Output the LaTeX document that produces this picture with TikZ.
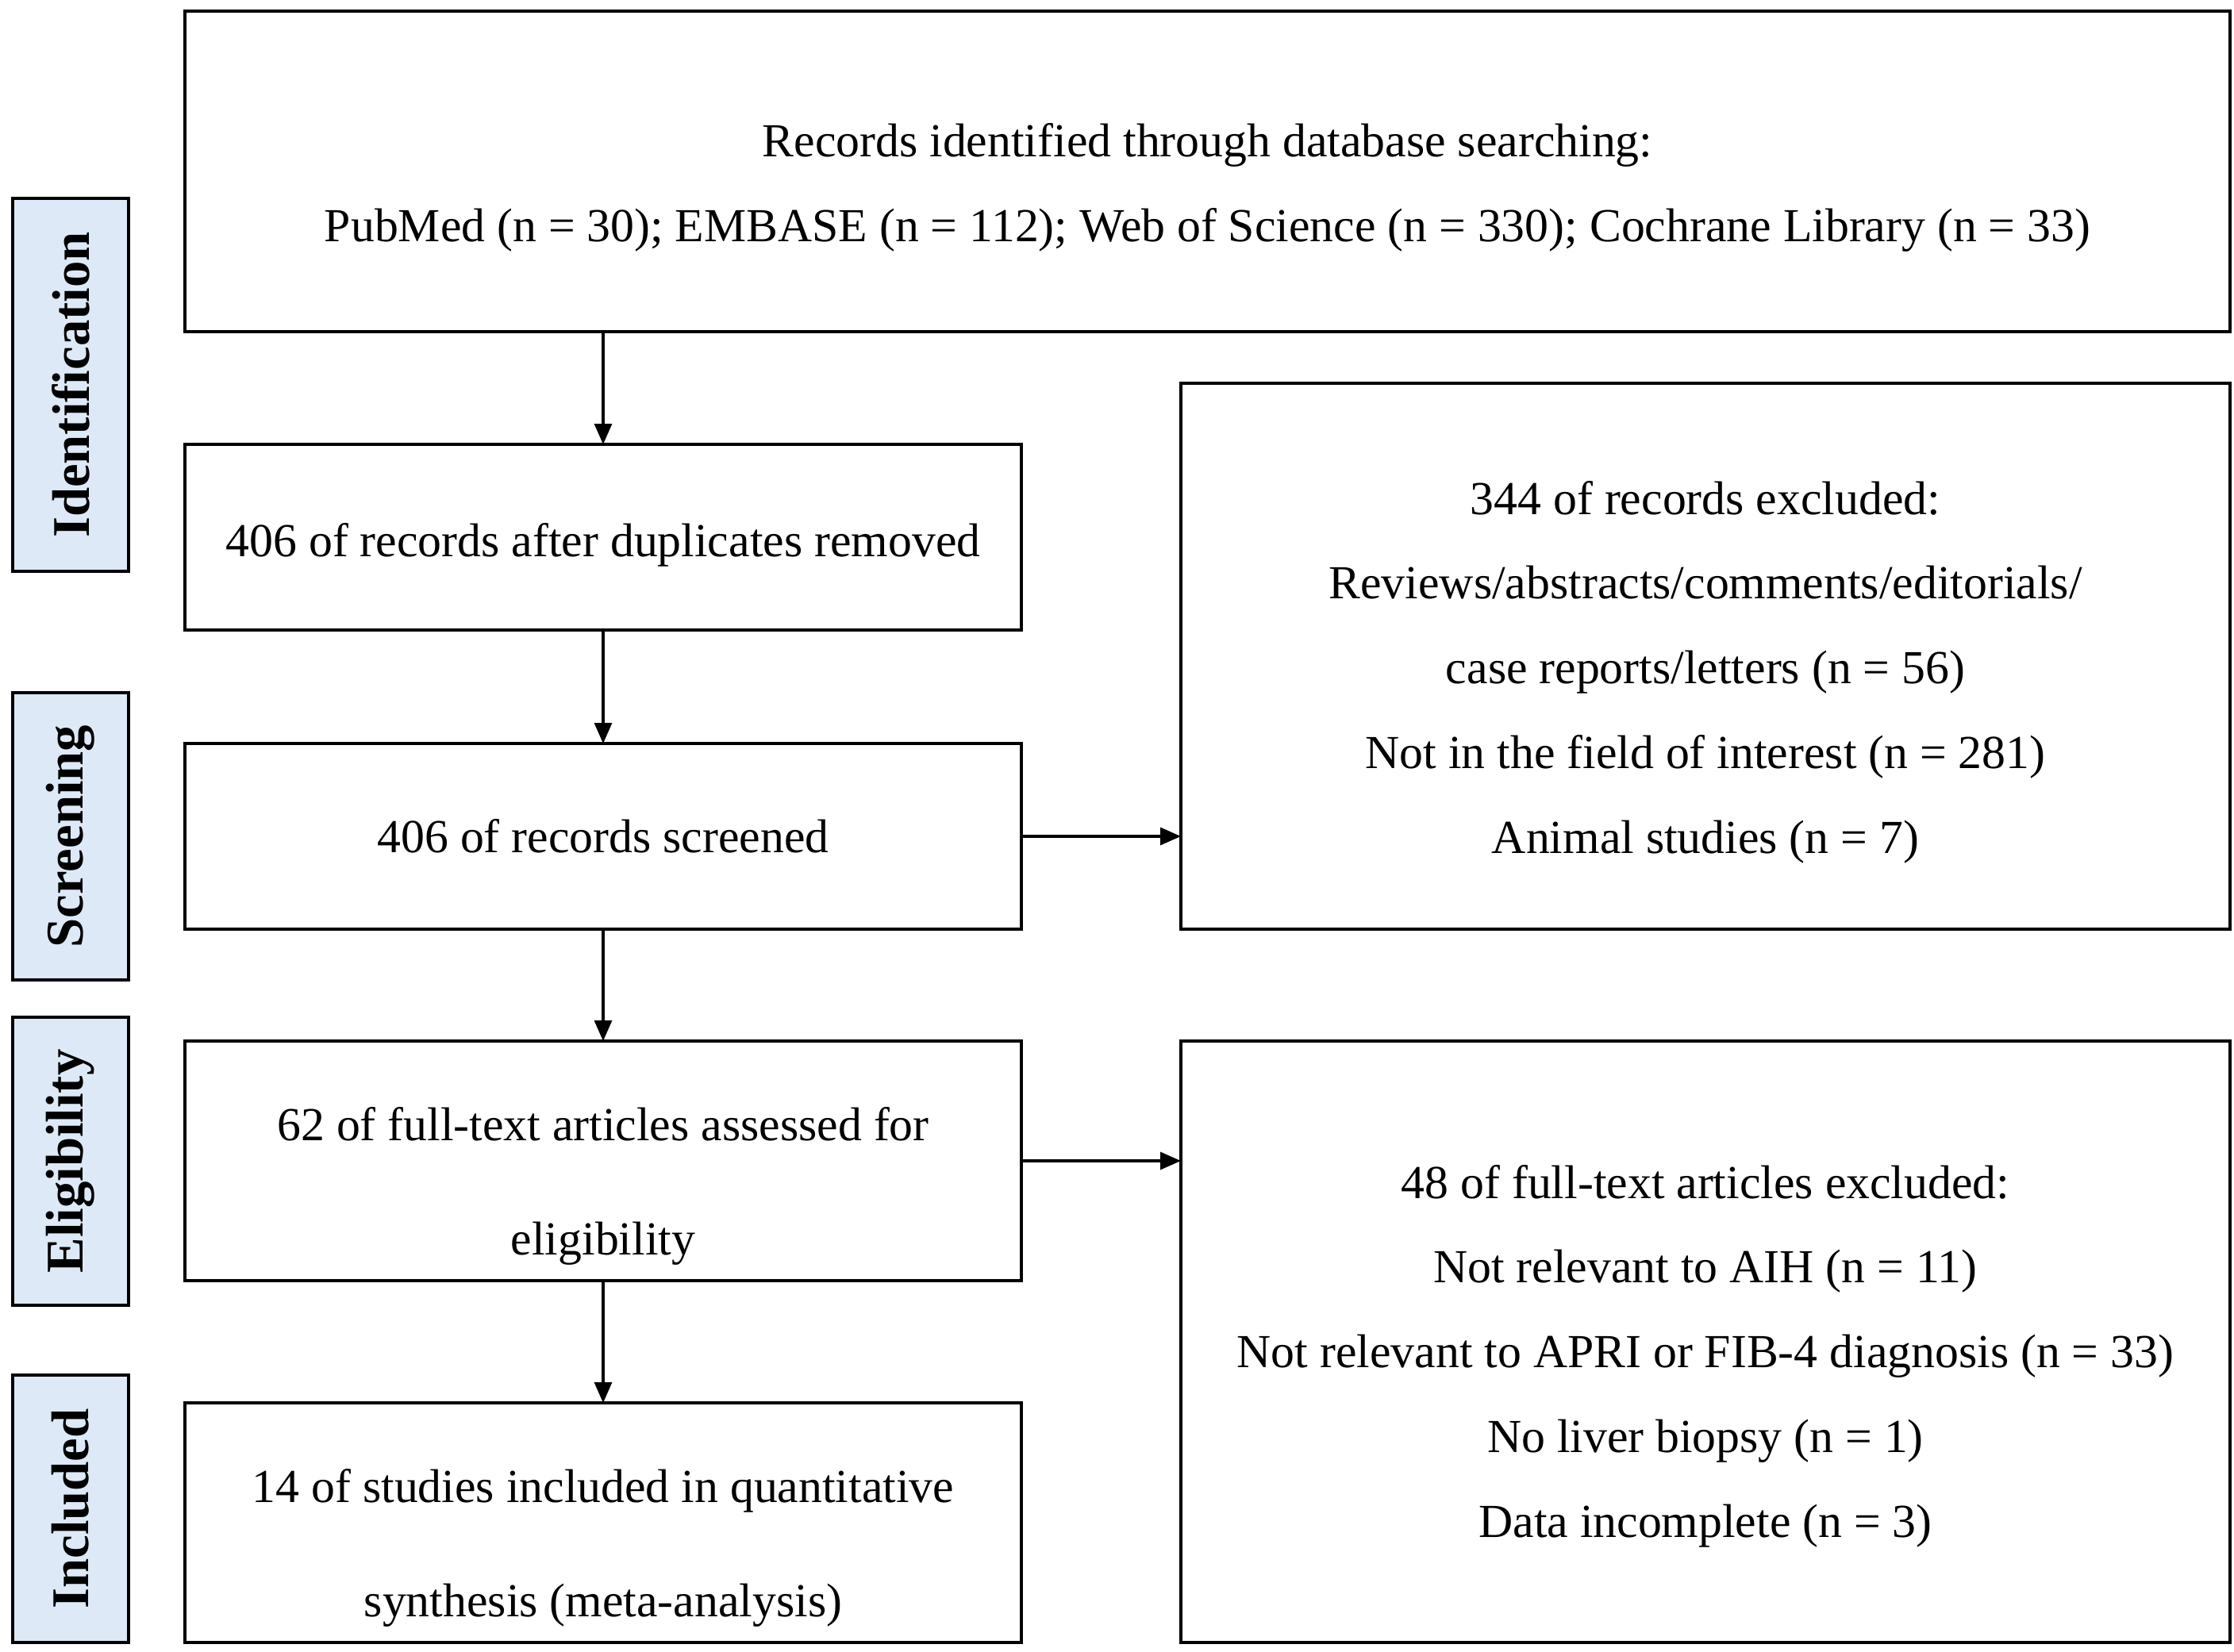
\documentclass[tikz,border=0pt]{standalone}
\usepackage{fontspec}
\setmainfont{Liberation Serif}
\usetikzlibrary{arrows.meta,positioning}
\definecolor{stageblue}{RGB}{221,233,246}

\begin{document}
\begin{tikzpicture}[node distance=1.4cm, >={Triangle[length=0.26cm,width=0.22cm]}, line width=0.9pt]
	  \tikzstyle{every node}=[font=\fontsize{17}{30.4}\selectfont, outer sep=0pt]
	  \tikzstyle{box}=[rectangle, draw=black, line width=1.2pt, inner sep=0pt, minimum width=10.54cm]
	  \tikzstyle{txt}=[align=center, inner sep=0pt]
	  \tikzstyle{stage}=[rectangle, draw=black, line width=1.2pt, fill=stageblue, rotate=90, inner sep=0pt,
	    minimum height=1.46cm, font=\fontsize{19}{22}\selectfont\bfseries]

	  \useasboundingbox (0,0) rectangle (28.15,-20.81);

	  % main column
	  \node[box] (top) [minimum width=25.77cm, minimum height=4.04cm] at (15.215,-2.16) {};
	  \node[box] (dup) [minimum height=2.34cm, below right=1.42cm and 0cm of top.south west] {};
	  \node[box] (scr) [minimum height=2.34cm, below=1.43cm of dup] {};
	  \node[box] (elig) [minimum height=3.02cm, below=1.41cm of scr] {};
	  \node[box] (incl) [minimum height=3.02cm, below=1.54cm of elig] {};

	  % exclusion boxes
	  \node[box] (ex1) [minimum width=13.22cm, minimum height=6.88cm, above right=0cm and 2.01cm of scr.south east] {};
	  \node[box] (ex2) [minimum width=13.22cm, minimum height=7.58cm, below right=0cm and 2.01cm of elig.north east] {};

	  \node[txt] (top-t) at ([yshift=-0.2cm]top.center)
	    {Records identified through database searching:\\
	     PubMed (n = 30); EMBASE (n = 112); Web of Science (n = 330); Cochrane Library (n = 33)};
	  \node[txt] (dup-t) at ([yshift=-0.1cm]dup.center) {406 of records after duplicates removed};
	  \node[txt] (scr-t) at (scr.center) {406 of records screened};
	  \node[txt] (elig-t) [font=\fontsize{17}{41}\selectfont] at ([yshift=-0.32cm]elig.center)
	    {62 of full-text articles assessed for\\ eligibility};
	  \node[txt] (incl-t) [font=\fontsize{17}{41}\selectfont] at ([yshift=-0.32cm]incl.center)
	    {14 of studies included in quantitative\\ synthesis (meta-analysis)};
	  \node[txt] (ex1-t) at ([yshift=-0.2cm]ex1.center)
	    {344 of records excluded:\\
	     Reviews/abstracts/comments/editorials/\\
	     case reports/letters (n = 56)\\
	     Not in the field of interest (n = 281)\\
	     Animal studies (n = 7)};
	  \node[txt] (ex2-t) at ([yshift=-0.18cm]ex2.center)
	    {48 of full-text articles excluded:\\
	     Not relevant to AIH (n = 11)\\
	     Not relevant to APRI or FIB-4 diagnosis (n = 33)\\
	     No liver biopsy (n = 1)\\
	     Data incomplete (n = 3)};

	  % stage labels
	  \node[stage] (lid) [minimum width=4.70cm] at (0.89,-4.85) {Identification};
	  \node[stage] (lscr) [minimum width=3.62cm] at (0.89,-10.54) {Screening};
	  \node[stage] (lelig) [minimum width=3.63cm] at (0.89,-14.635) {Eligibility};
	  \node[stage] (lincl) [minimum width=3.37cm] at (0.89,-19.015) {Included};

	  \path[->]
	  (top.south -| dup.north) edge (dup)
	  (dup) edge (scr)
	  (scr) edge (elig)
	  (elig) edge (incl)
	  (scr.east) edge (scr.east -| ex1.west)
	  (elig.east) edge (elig.east -| ex2.west)
	  ;
	\end{tikzpicture}
\end{document}
